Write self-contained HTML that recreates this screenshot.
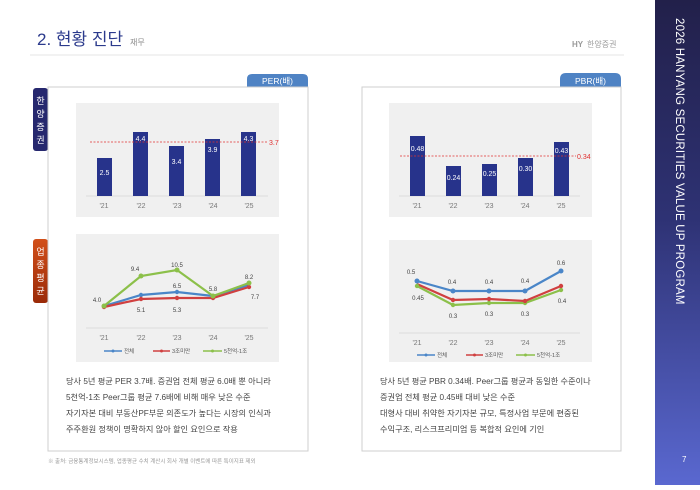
<!DOCTYPE html>
<html><head><meta charset="utf-8"><style>
body{margin:0;width:700px;height:485px;overflow:hidden;background:#fff;font-family:"Liberation Sans","Noto Sans CJK KR",sans-serif;}
svg text{font-family:"Liberation Sans","Noto Sans CJK KR",sans-serif;}
</style></head><body>
<svg width="700" height="485" viewBox="0 0 700 485" xmlns="http://www.w3.org/2000/svg">
<defs>
<linearGradient id="sb" x1="0" y1="0" x2="0" y2="1"><stop offset="0" stop-color="#22204a"/><stop offset="0.45" stop-color="#2e3274"/><stop offset="1" stop-color="#5a68d0"/></linearGradient>
<linearGradient id="or" x1="0" y1="0" x2="0" y2="1"><stop offset="0" stop-color="#d2501a"/><stop offset="1" stop-color="#9a2a08"/></linearGradient>
</defs>
<!-- header -->
<text x="37" y="45" font-size="17" fill="#2b3a8c">2. 현황 진단</text>
<text x="130" y="45" font-size="8" fill="#888">재무</text>
<line x1="30" y1="55" x2="624" y2="55" stroke="#e4e4e4" stroke-width="1"/>
<text x="572" y="47" font-size="8" font-weight="bold" fill="#999">HY</text>
<text x="587" y="47" font-size="8" fill="#999">한양증권</text>
<!-- sidebar -->
<rect x="655" y="0" width="45" height="485" fill="url(#sb)"/>
<text transform="translate(676,18) rotate(90)" font-size="11.5" fill="#fff" letter-spacing="0.2">2026 HANYANG SECURITIES VALUE UP PROGRAM</text>
<text x="682" y="462" font-size="8" fill="#fff">7</text>

<!-- left side tabs -->
<rect x="33" y="88" width="15" height="63" rx="3" fill="#26286e"/>
<text font-size="9" fill="#fff" text-anchor="middle"><tspan x="40.5" y="104">한</tspan><tspan x="40.5" y="117">양</tspan><tspan x="40.5" y="130">증</tspan><tspan x="40.5" y="143">권</tspan></text>
<rect x="33" y="239" width="15" height="64" rx="3" fill="url(#or)"/>
<text font-size="9" fill="#fff" text-anchor="middle"><tspan x="40.5" y="255">업</tspan><tspan x="40.5" y="268">종</tspan><tspan x="40.5" y="281">평</tspan><tspan x="40.5" y="294">균</tspan></text>

<!-- LEFT PANEL -->
<path d="M247 87 V79 Q247 74 252 74 H303 Q308 74 308 79 V87 Z" fill="#4f83c4"/>
<text x="277.5" y="84" font-size="8.5" fill="#fff" text-anchor="middle">PER(배)</text>
<rect x="48" y="87" width="260" height="364" fill="#fff" stroke="#cfcfcf" stroke-width="1"/>
<rect x="76" y="103" width="203" height="114" fill="#f0f0f0"/>
<line x1="86" y1="196" x2="268" y2="196" stroke="#ddd"/>
<g fill="#27338b">
<rect x="97" y="158" width="15" height="38"/><rect x="133" y="132" width="15" height="64"/><rect x="169" y="146" width="15" height="50"/><rect x="205" y="139" width="15" height="57"/><rect x="241" y="132" width="15" height="64"/>
</g>
<line x1="90" y1="142" x2="268" y2="142" stroke="#e03030" stroke-width="0.8" stroke-dasharray="2,1.5"/>
<text x="269" y="145" font-size="7" fill="#e03030">3.7</text>
<g font-size="7" fill="#fff" text-anchor="middle"><text x="104.5" y="175">2.5</text><text x="140.5" y="141">4.4</text><text x="176.5" y="164">3.4</text><text x="212.5" y="152">3.9</text><text x="248.5" y="141">4.3</text></g>
<g font-size="7" fill="#777" text-anchor="middle"><text x="104" y="208">'21</text><text x="141" y="208">'22</text><text x="177" y="208">'23</text><text x="213" y="208">'24</text><text x="249" y="208">'25</text></g>

<rect x="76" y="234" width="203" height="128" fill="#f0f0f0"/>
<line x1="86" y1="328" x2="268" y2="328" stroke="#ddd"/>
<polyline points="104,306 141,295 177,292 213,296 249,285" fill="none" stroke="#4a86c8" stroke-width="2.2"/>
<polyline points="104,307 141,299 177,298 213,298 249,287" fill="none" stroke="#d04040" stroke-width="2.2"/>
<polyline points="104,306 141,276 177,270 213,296 249,283" fill="none" stroke="#8cc04a" stroke-width="2.2"/>
<g fill="#4a86c8"><circle cx="141" cy="295" r="2.2"/><circle cx="177" cy="292" r="2.2"/></g>
<g fill="#d04040"><circle cx="104" cy="307" r="2.2"/><circle cx="141" cy="299" r="2.2"/><circle cx="177" cy="298" r="2.2"/><circle cx="213" cy="298" r="2.2"/><circle cx="249" cy="287" r="2.2"/></g>
<g fill="#8cc04a"><circle cx="104" cy="306" r="2.5"/><circle cx="141" cy="276" r="2.5"/><circle cx="177" cy="270" r="2.5"/><circle cx="213" cy="296" r="2.5"/><circle cx="249" cy="283" r="2.5"/></g>
<g font-size="6" fill="#444" text-anchor="middle"><text x="97" y="302">4.0</text><text x="135" y="271">9.4</text><text x="177" y="267">10.5</text><text x="177" y="288">6.5</text><text x="213" y="291">5.8</text><text x="249" y="279">8.2</text><text x="141" y="312">5.1</text><text x="177" y="312">5.3</text><text x="255" y="299">7.7</text></g>
<g font-size="7" fill="#777" text-anchor="middle"><text x="104" y="340">'21</text><text x="141" y="340">'22</text><text x="177" y="340">'23</text><text x="213" y="340">'24</text><text x="249" y="340">'25</text></g>
<g font-size="5.5" fill="#555">
<line x1="104" y1="351" x2="122" y2="351" stroke="#4a86c8" stroke-width="1.5"/><circle cx="113" cy="351" r="1.5" fill="#4a86c8"/><text x="124" y="353">전체</text>
<line x1="153" y1="351" x2="170" y2="351" stroke="#d04040" stroke-width="1.5"/><circle cx="161.5" cy="351" r="1.5" fill="#d04040"/><text x="172" y="353">3조미만</text>
<line x1="203" y1="351" x2="222" y2="351" stroke="#8cc04a" stroke-width="1.5"/><circle cx="212.5" cy="351" r="1.5" fill="#8cc04a"/><text x="224" y="353">5천억-1조</text>
</g>
<g font-size="8.2" fill="#444"><text x="66" y="384">당사 5년 평균 PER 3.7배. 증권업 전체 평균 6.0배 뿐 아니라</text><text x="66" y="400">5천억-1조 Peer그룹 평균 7.6배에 비해 매우 낮은 수준</text><text x="66" y="416">자기자본 대비 부동산PF부문 의존도가 높다는 시장의 인식과</text><text x="66" y="432">주주환원 정책이 명확하지 않아 할인 요인으로 작용</text></g>
<text x="48" y="463" font-size="5.5" fill="#999">※ 출처: 금융통계정보시스템,  업종평균 수치 계산시 회사 개별 이벤트에 따른 특이지표 제외</text>

<!-- RIGHT PANEL -->
<path d="M560 87 V79 Q560 73 566 73 H615 Q621 73 621 79 V87 Z" fill="#4f83c4"/>
<text x="590.5" y="84" font-size="8.5" fill="#fff" text-anchor="middle">PBR(배)</text>
<rect x="362" y="87" width="259" height="364" fill="#fff" stroke="#cfcfcf" stroke-width="1"/>
<rect x="389" y="103" width="203" height="114" fill="#f0f0f0"/>
<line x1="399" y1="196" x2="580" y2="196" stroke="#ddd"/>
<g fill="#27338b">
<rect x="410" y="136" width="15" height="60"/><rect x="446" y="166" width="15" height="30"/><rect x="482" y="164" width="15" height="32"/><rect x="518" y="158" width="15" height="38"/><rect x="554" y="142" width="15" height="54"/>
</g>
<line x1="400" y1="156" x2="576" y2="156" stroke="#e03030" stroke-width="0.8" stroke-dasharray="2,1.5"/>
<text x="577" y="159" font-size="7" fill="#e03030">0.34</text>
<g font-size="7" fill="#fff" text-anchor="middle"><text x="417.5" y="151">0.48</text><text x="453.5" y="180">0.24</text><text x="489.5" y="176">0.25</text><text x="525.5" y="171">0.30</text><text x="561.5" y="153">0.43</text></g>
<g font-size="7" fill="#777" text-anchor="middle"><text x="417" y="208">'21</text><text x="453" y="208">'22</text><text x="489" y="208">'23</text><text x="525" y="208">'24</text><text x="561" y="208">'25</text></g>

<rect x="389" y="240" width="203" height="122" fill="#f0f0f0"/>
<line x1="399" y1="333" x2="580" y2="333" stroke="#ddd"/>
<polyline points="417,286 453,305 489,303 525,303 561,290" fill="none" stroke="#8cc04a" stroke-width="2.2"/>
<polyline points="417,284 453,300 489,299 525,301 561,286" fill="none" stroke="#d04040" stroke-width="2.2"/>
<polyline points="417,281 453,291 489,291 525,291 561,271" fill="none" stroke="#4a86c8" stroke-width="2.2"/>
<g fill="#8cc04a"><circle cx="417" cy="286" r="2.2"/><circle cx="453" cy="305" r="2.2"/><circle cx="489" cy="303" r="2.2"/><circle cx="525" cy="303" r="2.2"/><circle cx="561" cy="290" r="2.2"/></g>
<g fill="#d04040"><circle cx="453" cy="300" r="2.2"/><circle cx="489" cy="299" r="2.2"/><circle cx="525" cy="301" r="2.2"/><circle cx="561" cy="286" r="2.2"/></g>
<g fill="#4a86c8"><circle cx="417" cy="281" r="2.5"/><circle cx="453" cy="291" r="2.5"/><circle cx="489" cy="291" r="2.5"/><circle cx="525" cy="291" r="2.5"/><circle cx="561" cy="271" r="2.5"/></g>
<g font-size="6" fill="#444" text-anchor="middle"><text x="411" y="274">0.5</text><text x="452" y="284">0.4</text><text x="489" y="284">0.4</text><text x="525" y="283">0.4</text><text x="561" y="265">0.6</text><text x="418" y="300">0.45</text><text x="453" y="318">0.3</text><text x="489" y="316">0.3</text><text x="525" y="316">0.3</text><text x="562" y="303">0.4</text></g>
<g font-size="7" fill="#777" text-anchor="middle"><text x="417" y="345">'21</text><text x="453" y="345">'22</text><text x="489" y="345">'23</text><text x="525" y="345">'24</text><text x="561" y="345">'25</text></g>
<g font-size="5.5" fill="#555">
<line x1="417" y1="355" x2="435" y2="355" stroke="#4a86c8" stroke-width="1.5"/><circle cx="426" cy="355" r="1.5" fill="#4a86c8"/><text x="437" y="357">전체</text>
<line x1="466" y1="355" x2="483" y2="355" stroke="#d04040" stroke-width="1.5"/><circle cx="474.5" cy="355" r="1.5" fill="#d04040"/><text x="485" y="357">3조미만</text>
<line x1="516" y1="355" x2="535" y2="355" stroke="#8cc04a" stroke-width="1.5"/><circle cx="525.5" cy="355" r="1.5" fill="#8cc04a"/><text x="537" y="357">5천억-1조</text>
</g>
<g font-size="8.2" fill="#444"><text x="380" y="384">당사 5년 평균 PBR 0.34배. Peer그룹 평균과 동일한 수준이나</text><text x="380" y="400">증권업 전체 평균 0.45배 대비 낮은 수준</text><text x="380" y="416">대형사 대비 취약한 자기자본 규모, 특정사업 부문에 편중된</text><text x="380" y="432">수익구조, 리스크프리미엄 등 복합적 요인에 기인</text></g>
</svg>
</body></html>
